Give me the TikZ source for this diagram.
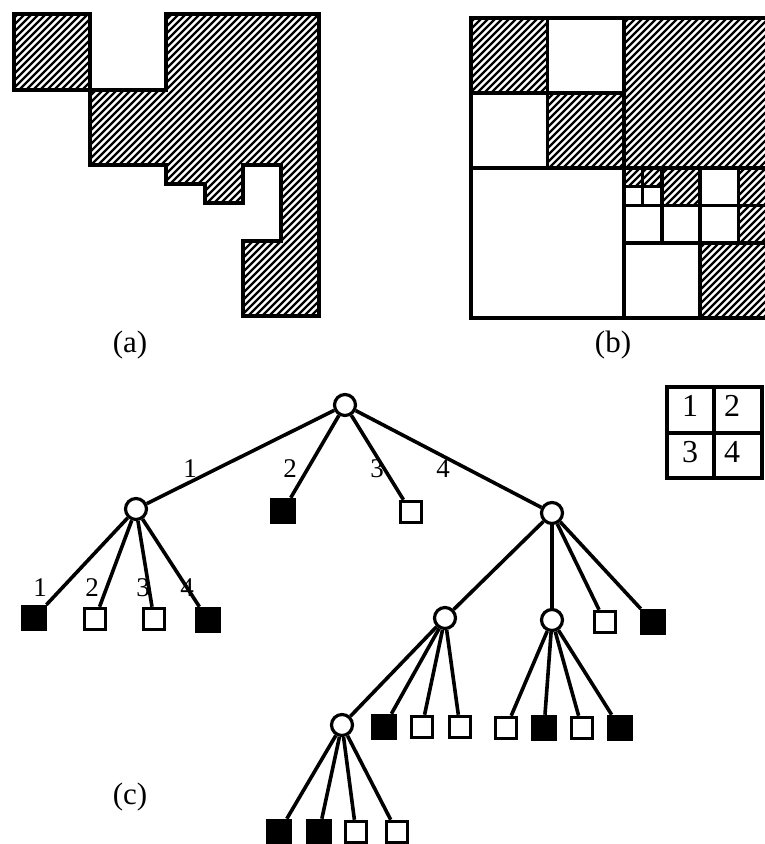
\documentclass[tikz,border=0pt]{standalone}
\usepackage{fontspec}
\setmainfont{Liberation Serif}

\tikzset{
  outline/.style={line width=4pt, line join=miter},
  hatchline/.style={line width=2.2pt},
  grid line/.style={line width=3.6pt, line cap=rect},
  inner/.style={circle, draw, fill=white, line width=3.2pt, minimum size=21pt, inner sep=0pt},
  blackleaf/.style={rectangle, draw, fill=black, line width=3pt, minimum size=23.5pt, inner sep=0pt},
  whiteleaf/.style={rectangle, draw, fill=white, line width=3pt, minimum size=21.5pt, inner sep=0pt},
  branch/.style={line width=3.6pt},
  lbl/.style={font=\fontsize{27}{27}\selectfont, inner sep=0pt},
  keytext/.style={font=\fontsize{32}{32}\selectfont, inner sep=0pt},
  caption/.style={font=\fontsize{31}{31}\selectfont, inner sep=0pt},
}

% diagonal hatching (rising to the right), drawn in pixel units
% relative to the current origin, to be used inside a clip
\newcommand\hatchfield{%
  \begin{scope}[x=1pt, y=-1pt]
    \foreach \c in {-364,-357,...,340}
      \draw[hatchline] (\c,340) -- ++(360,-360);
  \end{scope}}

\begin{document}
\begin{tikzpicture}[x=1pt, y=-1pt]
\useasboundingbox (0,0) rectangle (765,844);
\clip (0,0) rectangle (765,844);

% ---------- (a) the region ----------
\begin{scope}[shift={(14,14)}, x=38.1pt, y=-37.8pt]
  \begin{scope}
    \clip (0,0) rectangle (2,2)
      (2,2) -- (4,2) -- (4,0) -- (8,0) -- (8,8) -- (6,8) -- (6,6) -- (7,6)
      -- (7,4) -- (6,4) -- (6,5) -- (5,5) -- (5,4.5) -- (4,4.5) -- (4,4) -- (2,4) -- cycle;
    \hatchfield
  \end{scope}
  \draw[outline] (0,0) rectangle (2,2);
  \draw[outline] (2,2) -- (4,2) -- (4,0) -- (8,0) -- (8,8) -- (6,8) -- (6,6) -- (7,6)
     -- (7,4) -- (6,4) -- (6,5) -- (5,5) -- (5,4.5) -- (4,4.5) -- (4,4) -- (2,4) -- cycle;
\end{scope}

% ---------- (b) its quadtree decomposition ----------
\begin{scope}[shift={(471,18)}, x=38.2pt, y=-37.5pt]
  \begin{scope}
    \clip (0,0) rectangle (2,2)
          (2,2) rectangle (4,4)
          (4,0) rectangle (8,4)
          (4,4) rectangle (5,4.5)
          (5,4) rectangle (6,5)
          (7,4) rectangle (8,6)
          (6,6) rectangle (8,8);
    \hatchfield
  \end{scope}
  \draw[grid line] (0,0) rectangle (8,8);
  \draw[grid line] (4,0) -- (4,8);
  \draw[grid line] (0,4) -- (8,4);
  \draw[grid line] (2,0) -- (2,4);
  \draw[grid line] (0,2) -- (4,2);
  \draw[grid line] (6,4) -- (6,8);
  \draw[grid line] (4,6) -- (8,6);
  \draw[grid line] (5,4) -- (5,6);
  \draw[grid line] (7,4) -- (7,6);
  \draw[grid line] (4,5) -- (8,5);
  \draw[grid line, line width=3pt] (4.5,4) -- (4.5,5);
  \draw[grid line, line width=3pt] (4,4.5) -- (5,4.5);
\end{scope}

\node[caption] (capa) at (130,345) {(a)};
\node[caption] (capb) at (613,345) {(b)};
\node[caption] (capc) at (130,797) {(c)};

% ---------- (c) the quadtree ----------
\node[inner] (R) at (345,405) {};
\node[inner] (A) at (136,509) {};
\node[blackleaf] (r2) at (283,511) {};
\node[whiteleaf] (r3) at (411,512) {};
\node[inner] (B) at (552,513) {};

\node[blackleaf] (a1) at (34,618) {};
\node[whiteleaf] (a2) at (95,619) {};
\node[whiteleaf] (a3) at (154,619) {};
\node[blackleaf] (a4) at (208,620) {};

\node[inner] (C) at (445,618) {};
\node[inner] (D) at (552,620) {};
\node[whiteleaf] (b3) at (605,622) {};
\node[blackleaf] (b4) at (653,622) {};

\node[inner] (E) at (342,725) {};
\node[blackleaf] (c2) at (384,727) {};
\node[whiteleaf] (c3) at (422,727) {};
\node[whiteleaf] (c4) at (460,727) {};

\node[whiteleaf] (d1) at (506,728) {};
\node[blackleaf] (d2) at (544,728) {};
\node[whiteleaf] (d3) at (582,728) {};
\node[blackleaf] (d4) at (620,728) {};

\node[blackleaf] (e1) at (279,832) {};
\node[blackleaf] (e2) at (319,832) {};
\node[whiteleaf] (e3) at (356,832) {};
\node[whiteleaf] (e4) at (397,832) {};

\foreach \p/\c in {R/A, R/r2, R/r3, R/B,
                   A/a1, A/a2, A/a3, A/a4,
                   B/C, B/D, B/b3, B/b4,
                   C/E, C/c2, C/c3, C/c4,
                   D/d1, D/d2, D/d3, D/d4,
                   E/e1, E/e2, E/e3, E/e4}
  \draw[branch] (\p) -- (\c);

% quadrant numbers on the branches
\node[lbl] (n1) at (190,469) {1};
\node[lbl] (n2) at (290,469) {2};
\node[lbl] (n3) at (377,469) {3};
\node[lbl] (n4) at (443,469) {4};
\node[lbl] (m1) at (40,588) {1};
\node[lbl] (m2) at (92,588) {2};
\node[lbl] (m3) at (143,588) {3};
\node[lbl] (m4) at (187,588) {4};

% key to the quadrant numbering
\draw[outline] (667,387) rectangle (762,478);
\draw[outline, line width=3.5pt] (714,387) -- (714,478);
\draw[outline, line width=3.5pt] (667,433) -- (762,433);
\node[keytext] (k1) at (690,406) {1};
\node[keytext] (k2) at (732,406) {2};
\node[keytext] (k3) at (690,452) {3};
\node[keytext] (k4) at (732,452) {4};
\end{tikzpicture}
\end{document}
